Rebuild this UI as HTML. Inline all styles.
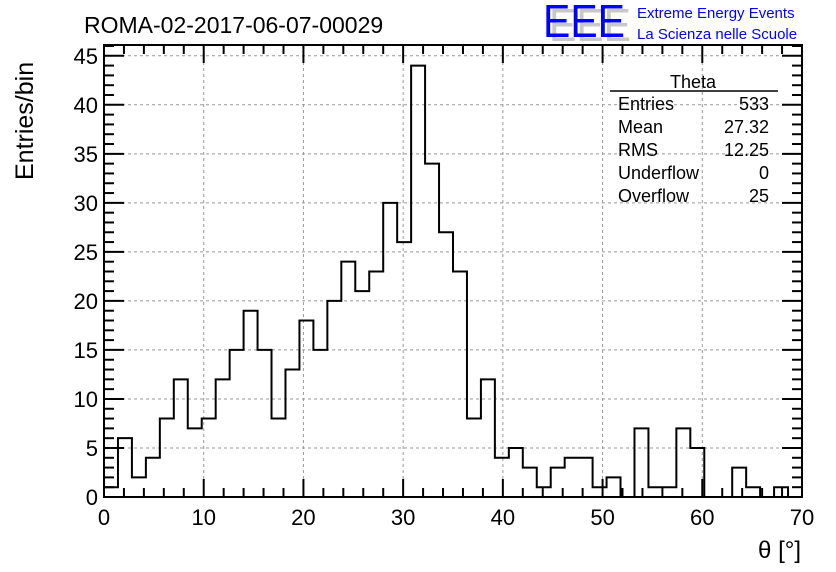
<!DOCTYPE html>
<html><head><meta charset="utf-8"><style>
html,body{margin:0;padding:0;background:#fff;}
svg{display:block;font-family:"Liberation Sans",sans-serif;}
</style></head><body>
<svg id="chart" width="836" height="572" viewBox="0 0 836 572" xmlns="http://www.w3.org/2000/svg">
<rect width="836" height="572" fill="#fff"/>
<g id="grid"></g>
<g id="hist"></g>
<g id="axes"></g>
<text x="84" y="33" font-size="23" fill="#000">ROMA-02-2017-06-07-00029</text>
<g>
<text x="549" y="41" font-size="46" fill="#c8c8c8" textLength="82" lengthAdjust="spacingAndGlyphs">EEE</text>
<text x="543" y="37" font-size="46" fill="#0000ff" textLength="82" lengthAdjust="spacingAndGlyphs">EEE</text>
<text x="637" y="18" font-size="15" fill="#0000ff">Extreme Energy Events</text>
<text x="637" y="39" font-size="15" fill="#0000ff">La Scienza nelle Scuole</text>
</g>
<g font-size="18" fill="#000">
<text x="693" y="88" text-anchor="middle">Theta</text>
<line x1="610" y1="91" x2="778" y2="91" stroke="#000" stroke-width="1.5"/>
<text x="618" y="110">Entries</text><text x="769" y="110" text-anchor="end">533</text>
<text x="618" y="133">Mean</text><text x="769" y="133" text-anchor="end">27.32</text>
<text x="618" y="156">RMS</text><text x="769" y="156" text-anchor="end">12.25</text>
<text x="618" y="179">Underflow</text><text x="769" y="179" text-anchor="end">0</text>
<text x="618" y="202">Overflow</text><text x="769" y="202" text-anchor="end">25</text>
</g>
<text transform="translate(33,180) rotate(-90)" font-size="25" fill="#000">Entries/bin</text>
<text x="801" y="558" font-size="24" text-anchor="end" fill="#000">θ [°]</text>
</svg>
<script>
const counts=[1,6,2,4,8,12,7,8,12,15,19,15,8,13,18,15,20,24,21,23,30,26,44,34,27,23,8,12,4,5,3,1,3,4,4,1,2,0,7,1,1,7,5,0,0,3,1,0,1,0];
const binWidth=[1.4];
const xTicks=[0,10,20,30,40,50,60,70];
const yTicks=[0,5,10,15,20,25,30,35,40,45];
const NS="http://www.w3.org/2000/svg";
const X0=104,X1=802,Y0=497,Y1=45,xmin=0,xmax=70,ymin=0,ymax=46.1;
function sx(v){return X0+(v-xmin)/(xmax-xmin)*(X1-X0);}
function sy(v){return Y0-(v-ymin)/(ymax-ymin)*(Y0-Y1);}
function mk(tag,attrs,parent){const e=document.createElementNS(NS,tag);for(const k in attrs)e.setAttribute(k,attrs[k]);parent.appendChild(e);return e;}
const grid=document.getElementById('grid'),hist=document.getElementById('hist'),axes=document.getElementById('axes');
xTicks.forEach(t=>{if(t>xmin&&t<xmax){const l=mk('line',{x1:sx(t),x2:sx(t),y1:Y0,y2:Y1,stroke:'#999','stroke-dasharray':'3,3','stroke-width':1},grid);

}});
yTicks.forEach(t=>{if(t>ymin){const l=mk('line',{x1:X0,x2:X1,y1:sy(t),y2:sy(t),stroke:'#999','stroke-dasharray':'3,3','stroke-width':1},grid);

}});
let d='M'+sx(0)+','+sy(0);
counts.forEach((c,i)=>{const a=sx(i*binWidth[0]),b=sx((i+1)*binWidth[0]);d+=' L'+a+','+sy(c)+' L'+b+','+sy(c);});
d+=' L'+sx(counts.length*binWidth[0])+','+sy(0);
const p=mk('path',{d:d,fill:'none',stroke:'#000','stroke-width':2},hist);


const fr=mk('rect',{x:X0,y:Y1,width:X1-X0,height:Y0-Y1,fill:'none',stroke:'#000','stroke-width':2},axes);


for(let v=xmin;v<=xmax;v+=2){const major=xTicks.includes(v);const L=major?18:9;
mk('line',{x1:sx(v),x2:sx(v),y1:Y0,y2:Y0-L,stroke:'#000','stroke-width':2},axes);
mk('line',{x1:sx(v),x2:sx(v),y1:Y1,y2:Y1+L,stroke:'#000','stroke-width':2},axes);}
for(let v=ymin;v<=46;v+=1){const major=yTicks.includes(v);const L=major?20:10;
mk('line',{x1:X0,x2:X0+L,y1:sy(v),y2:sy(v),stroke:'#000','stroke-width':2},axes);
mk('line',{x1:X1,x2:X1-L,y1:sy(v),y2:sy(v),stroke:'#000','stroke-width':2},axes);}
xTicks.forEach(t=>{const e=mk('text',{x:sx(t),y:Y0+28,'font-size':22,'text-anchor':'middle'},axes);e.textContent=t;

});
yTicks.forEach(t=>{const e=mk('text',{x:X0-6,y:sy(t)+8,'font-size':22,'text-anchor':'end'},axes);e.textContent=t;

});
</script>
</body></html>
